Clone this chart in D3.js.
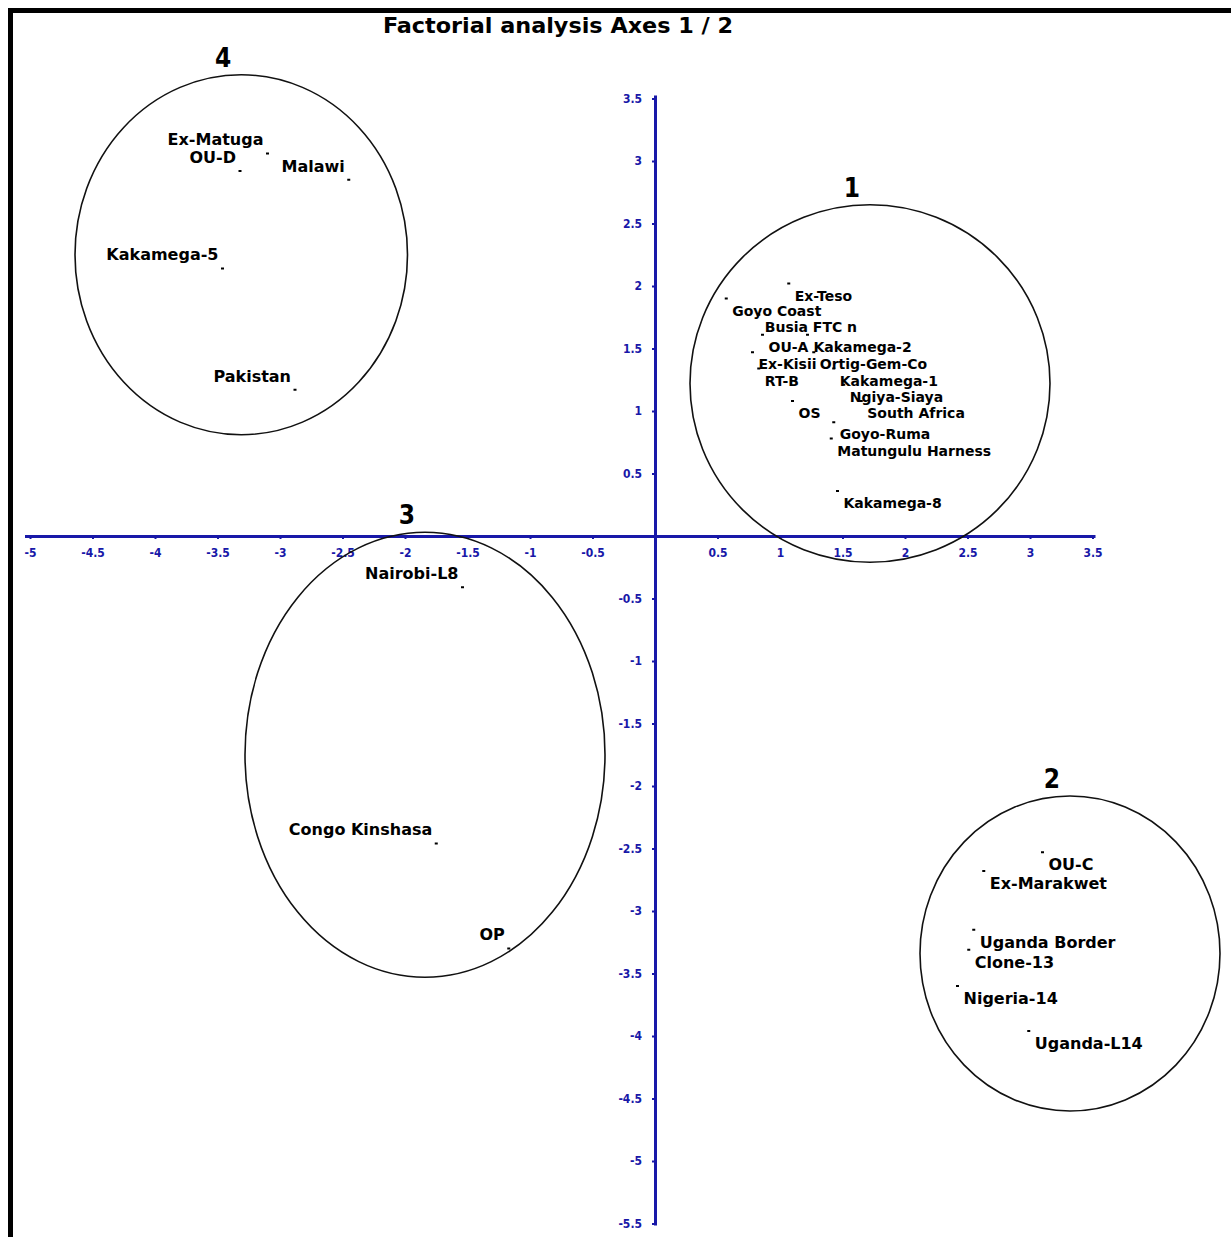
<!DOCTYPE html>
<html>
<head>
<meta charset="utf-8">
<script src="https://cdn.jsdelivr.net/npm/d3@7"></script>
<style>
  body { margin: 0; background: #fff; }
  svg { display: block; }
</style>
</head>
<body>
<svg id="chart" width="1231" height="1237"></svg>
<script>
// Factorial analysis, axes 1 and 2: individual coordinates
const pointNames = [
  // group 4
  "Ex-Matuga", "OU-D", "Malawi", "Kakamega-5", "Pakistan",
  // group 1
  "Ex-Teso", "Goyo Coast", "Busia FTC n", "OU-A", "Kakamega-2",
  "Ex-Kisii", "Ortig-Gem-Co", "Kakamega-1", "RT-B", "Ngiya-Siaya",
  "OS", "South Africa", "Goyo-Ruma", "Matungulu Harness", "Kakamega-8",
  // group 3
  "Nairobi-L8", "Congo Kinshasa", "OP",
  // group 2
  "OU-C", "Ex-Marakwet", "Uganda Border", "Clone-13", "Nigeria-14", "Uganda-L14"
];
const axis1Values = [
  -3.10, -3.32, -2.45, -3.46, -2.88,
  1.07, 0.57, 0.83, 0.86, 1.22,
  0.78, 1.27, 1.43, 0.83, 1.51,
  1.10, 1.65, 1.43, 1.41, 1.46,
  -1.54, -1.75, -1.17,
  3.10, 2.63, 2.55, 2.51, 2.42, 2.99
];
const axis2Values = [
  3.06, 2.92, 2.85, 2.14, 1.17,
  2.02, 1.90, 1.77, 1.61, 1.61,
  1.47, 1.47, 1.34, 1.34, 1.21,
  1.08, 1.08, 0.91, 0.78, 0.36,
  -0.41, -2.46, -3.30,
  -2.53, -2.68, -3.15, -3.31, -3.60, -3.96
];

// Groups outlined by ellipses (centre and radii in axis units)
const groupIds = ["4", "1", "3", "2"];
const groupCx = [-3.31, 1.72, -1.84, 3.32];
const groupCy = [2.25, 1.22, -1.75, -3.34];
const groupRx = [1.33, 1.44, 1.44, 1.20];
const groupRy = [1.44, 1.43, 1.78, 1.26];

const xTickValues = [-5, -4.5, -4, -3.5, -3, -2.5, -2, -1.5, -1, -0.5, 0.5, 1, 1.5, 2, 2.5, 3, 3.5];
const yTickValues = [3.5, 3, 2.5, 2, 1.5, 1, 0.5, -0.5, -1, -1.5, -2, -2.5, -3, -3.5, -4, -4.5, -5, -5.5];
const chartTitle = "Factorial analysis  Axes 1 / 2";

const svg = d3.select("#chart");
const W = 1231, H = 1237;
const axisBlue = "#1818a8";
const labelFont = "'DejaVu Sans', Verdana, sans-serif";
const narrowFont = "'Liberation Sans Narrow', 'Arial Narrow', 'DejaVu Sans Condensed', sans-serif";

svg.append("rect").attr("width", W).attr("height", H).attr("fill", "#fff");

const x = d3.scaleLinear().domain([-5, 3.5]).range([30, 1092.5]);
const y = d3.scaleLinear().domain([-5.5, 3.5]).range([1223.5, 98.5]);

// frame
svg.append("path")
  .attr("d", `M10.5,${H} V10.5 H${W}`)
  .attr("fill", "none").attr("stroke", "#000").attr("stroke-width", 5);

// title
svg.append("text")
  .attr("x", 558).attr("y", 33)
  .attr("text-anchor", "middle")
  .attr("font-family", narrowFont)
  .attr("font-weight", "bold")
  .attr("font-size", 22)
  .attr("textLength", 350)
  .attr("lengthAdjust", "spacingAndGlyphs")
  .text(chartTitle);

const fmt = v => Number.isInteger(v) ? String(v) : v.toFixed(1);

// horizontal axis through y = 0
const gx = svg.append("g")
  .attr("transform", `translate(0,${y(0)})`)
  .call(d3.axisBottom(x).tickValues(xTickValues).tickFormat(fmt).tickSize(3).tickSizeOuter(0).tickPadding(9));
gx.select(".domain")
  .attr("d", `M${x(-5) - 5},0.5H${x(3.5) + 3}`)
  .attr("stroke", axisBlue).attr("stroke-width", 3);

// vertical axis through x = 0
const gy = svg.append("g")
  .attr("transform", `translate(${x(0)},0)`)
  .call(d3.axisLeft(y).tickValues(yTickValues).tickFormat(fmt).tickSize(3).tickSizeOuter(0).tickPadding(10));
gy.select(".domain")
  .attr("d", `M0.5,${y(3.5) - 3}V${y(-5.5) + 2}`)
  .attr("stroke", axisBlue).attr("stroke-width", 3);

[gx, gy].forEach(g => {
  g.selectAll(".tick line").attr("stroke", axisBlue).attr("stroke-width", 2);
  g.selectAll(".tick text")
    .attr("fill", axisBlue)
    .attr("font-family", narrowFont)
    .attr("font-weight", "bold")
    .attr("font-size", 12);
});

// group ellipses and their numbers
const groups = groupIds.map((id, i) => ({
  id, cx: groupCx[i], cy: groupCy[i], rx: groupRx[i], ry: groupRy[i]
}));
const kx = x(1) - x(0), ky = y(0) - y(1);

svg.append("g").selectAll("ellipse")
  .data(groups).join("ellipse")
  .attr("cx", d => x(d.cx)).attr("cy", d => y(d.cy))
  .attr("rx", d => d.rx * kx).attr("ry", d => d.ry * ky)
  .attr("fill", "none").attr("stroke", "#111").attr("stroke-width", 1.6);

svg.append("g").selectAll("text")
  .data(groups).join("text")
  .attr("x", d => x(d.cx) - 18)
  .attr("y", d => y(d.cy) - d.ry * ky - 8)
  .attr("text-anchor", "middle")
  .attr("font-family", narrowFont)
  .attr("font-weight", "bold")
  .attr("font-size", 26)
  .text(d => d.id);

// individuals: small point marks, each labelled on an opaque box;
// labels sit to the left of points with negative axis-1 scores, to the right otherwise,
// and the crowded upper-right quadrant uses a smaller size
const points = pointNames.map((name, i) => ({ name, a1: axis1Values[i], a2: axis2Values[i] }));

const gp = svg.append("g");
points.forEach(p => {
  const px = x(p.a1), py = y(p.a2);
  const left = p.a1 < 0;
  const fs = (p.a1 > 0 && p.a2 > 0) ? 14 : 16;
  const centre = left ? py - 14 : py + 12;
  const base = centre + 0.36 * fs;
  const lg = gp.append("g");
  const bg = lg.append("rect").attr("fill", "#fff");
  const t = lg.append("text")
    .attr("x", left ? px - 4 : px + 6)
    .attr("y", base)
    .attr("text-anchor", left ? "end" : "start")
    .attr("font-family", labelFont)
    .attr("font-weight", "bold")
    .attr("font-size", fs)
    .attr("fill", "#000")
    .text(p.name);
  const b = t.node().getBBox();
  bg.attr("x", b.x - 1).attr("y", base - 0.8 * fs).attr("width", b.width + 2).attr("height", fs);
  gp.append("rect")
    .attr("x", px - 1.5).attr("y", py - 1)
    .attr("width", 3).attr("height", 2)
    .attr("fill", "#000");
});
</script>
</body>
</html>
